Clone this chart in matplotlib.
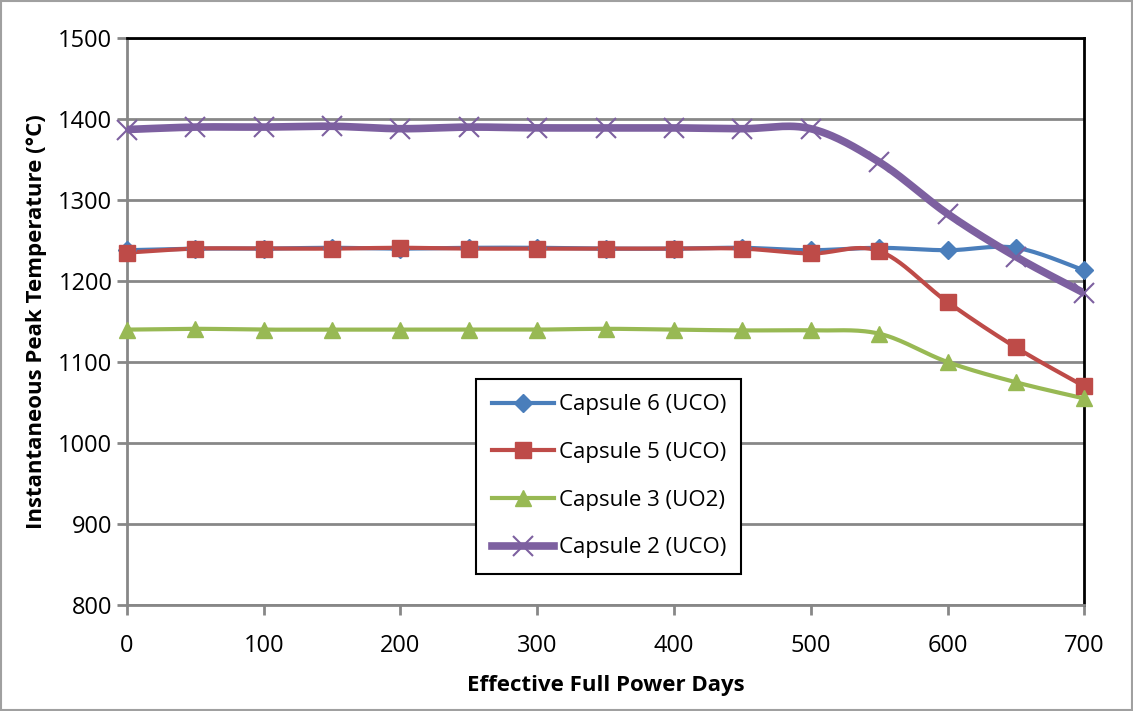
import numpy as np
import matplotlib.pyplot as plt
from matplotlib.patches import Rectangle

plt.rcParams['font.family'] = ['Open Sans', 'DejaVu Sans']

days = [0, 50, 100, 150, 200, 250, 300, 350, 400, 450, 500, 550, 600, 650, 700]
capsule6 = [1238, 1240, 1240, 1241, 1240, 1241, 1241, 1240, 1240, 1241, 1238, 1241, 1238, 1241, 1213]
capsule5 = [1235, 1240, 1240, 1240, 1241, 1240, 1240, 1240, 1240, 1240, 1234, 1237, 1174, 1118, 1070]
capsule3 = [1140, 1141, 1140, 1140, 1140, 1140, 1140, 1141, 1140, 1139, 1139, 1135, 1100, 1075, 1055]
capsule2 = [1387, 1390, 1390, 1391, 1388, 1390, 1389, 1389, 1389, 1388, 1388, 1347, 1283, 1230, 1185]


def smooth(x, y, n=30):
    # excel-style smoothed line: cubic bezier through the points
    x = np.asarray(x, float)
    y = np.asarray(y, float)
    px = np.concatenate([[x[0]], x, [x[-1]]])
    py = np.concatenate([[y[0]], y, [y[-1]]])
    xs, ys = [], []
    t = np.linspace(0, 1, n)
    for i in range(len(x) - 1):
        p0 = np.array([px[i + 1], py[i + 1]])
        p3 = np.array([px[i + 2], py[i + 2]])
        c1 = p0 + (np.array([px[i + 2], py[i + 2]]) - np.array([px[i], py[i]])) / 6
        c2 = p3 - (np.array([px[i + 3], py[i + 3]]) - np.array([px[i + 1], py[i + 1]])) / 6
        b = ((1 - t)[:, None] ** 3 * p0 + 3 * ((1 - t) ** 2 * t)[:, None] * c1
             + 3 * ((1 - t) * t ** 2)[:, None] * c2 + (t ** 3)[:, None] * p3)
        xs.extend(b[:, 0])
        ys.extend(b[:, 1])
    return xs, ys


fig = plt.figure(figsize=(11.33, 7.11), dpi=100)
ax = fig.add_axes([0.112, 0.149, 0.845, 0.7976])

series = [
    ('Capsule 6 (UCO)', capsule6, '#4a7ebb', 'D', 3, 9),
    ('Capsule 5 (UCO)', capsule5, '#be4b48', 's', 3, 11),
    ('Capsule 3 (UO2)', capsule3, '#98b954', '^', 3, 11),
    ('Capsule 2 (UCO)', capsule2, '#7d60a0', 'x', 5.5, 15),
]

for label, vals, col, mk, lw, ms in series:
    sx, sy = smooth(days, vals)
    ax.plot(sx, sy, color=col, lw=lw, solid_capstyle='round', zorder=3)
    ax.plot(days, vals, ls='none', marker=mk, color=col, ms=ms,
            mew=1.5 if mk == 'x' else 1, clip_on=False, zorder=4)
    ax.plot([], [], color=col, lw=lw, marker=mk, ms=ms, label=label,
            mew=1.5 if mk == 'x' else 1)

ax.set_xlim(0, 700)
ax.set_ylim(800, 1500)
ax.set_xticks(range(0, 701, 100))
ax.set_yticks(range(800, 1501, 100))
ax.grid(axis='y', color='#878787', lw=2)
ax.set_axisbelow(True)

for s in ['top', 'right']:
    ax.spines[s].set_color('black')
    ax.spines[s].set_linewidth(2)
for s in ['left', 'bottom']:
    ax.spines[s].set_color('#878787')
    ax.spines[s].set_linewidth(2)
ax.tick_params(colors='#878787', width=2, length=7, labelsize=17, labelcolor='black')
ax.tick_params(axis='x', pad=14)

ax.set_xlabel('Effective Full Power Days', fontsize=16, fontweight='bold', labelpad=12)
ax.set_ylabel('Instantaneous Peak Temperature (°C)', fontsize=16, fontweight='bold', labelpad=8)

leg = ax.legend(loc='upper left', bbox_to_anchor=(0.365, 0.399), fontsize=16,
                frameon=True, fancybox=False, edgecolor='black', framealpha=1,
                borderpad=0.7, labelspacing=1.2, handlelength=2.8, handletextpad=0.2,
                borderaxespad=0)
leg.get_frame().set_linewidth(1.5)

fig.patches.append(Rectangle((0.001, 0.001), 0.998, 0.997, transform=fig.transFigure,
                             fill=False, edgecolor='#a0a0a0', lw=1.5))

fig.savefig('out.png', dpi=100)
